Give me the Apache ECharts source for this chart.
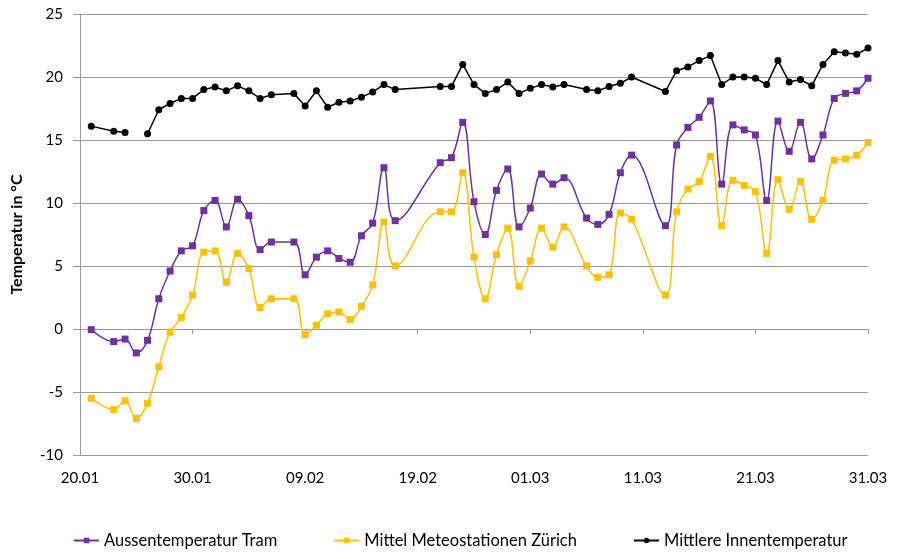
<!DOCTYPE html>
<html><head><meta charset="utf-8">
<script src="https://cdn.jsdelivr.net/npm/echarts@6/dist/echarts.min.js"></script>
<style>html,body{margin:0;padding:0;background:#fff}#c{width:900px;height:559px}</style>
</head><body><div id="c"></div>
<script>
const dates = ['21.01','23.01','24.01','25.01','26.01','27.01','28.01','29.01','30.01','31.01',
 '01.02','02.02','03.02','04.02','05.02','06.02',
 '08.02','09.02','10.02','11.02','12.02','13.02','14.02','15.02','16.02','17.02',
 '21.02','22.02','23.02','24.02','25.02','26.02','27.02','28.02',
 '01.03','02.03','03.03','04.03',
 '06.03','07.03','08.03','09.03','10.03',
 '13.03','14.03','15.03','16.03','17.03','18.03','19.03','20.03','21.03','22.03','23.03','24.03','25.03','26.03','27.03','28.03','29.03','30.03','31.03'];
const aussenTram = [-0.05,-1.0,-0.8,-1.9,-0.9,2.4,4.6,6.2,6.6,9.4,
 10.2,8.1,10.3,9.0,6.3,6.9,
 6.9,4.3,5.7,6.2,5.6,5.3,7.4,8.4,12.8,8.6,
 13.2,13.6,16.4,10.1,7.5,11.0,12.7,8.1,
 9.6,12.3,11.5,12.0,
 8.8,8.3,9.1,12.4,13.8,
 8.2,14.6,16.0,16.8,18.1,11.5,16.2,15.8,15.4,10.2,16.5,14.1,16.4,13.5,15.4,18.3,18.7,18.9,19.9];
const meteoZuerich = [-5.5,-6.4,-5.7,-7.1,-5.9,-3.0,-0.25,0.9,2.7,6.1,
 6.2,3.7,6.0,4.8,1.7,2.4,
 2.4,-0.45,0.3,1.2,1.35,0.75,1.8,3.5,8.5,5.0,
 9.3,9.3,12.4,5.7,2.4,5.9,8.0,3.4,
 5.4,8.0,6.5,8.1,
 5.0,4.1,4.3,9.2,8.7,
 2.7,9.3,11.1,11.7,13.7,8.2,11.8,11.4,10.9,6.0,11.85,9.5,11.7,8.7,10.2,13.4,13.5,13.8,14.8];
const innen = [16.1,15.7,15.6,null,15.5,17.4,17.9,18.3,18.3,19.0,
 19.2,18.9,19.3,18.9,18.3,18.6,
 18.7,17.7,18.9,17.6,18.0,18.1,18.4,18.8,19.4,19.0,
 19.25,19.25,21.0,19.4,18.7,19.0,19.6,18.7,
 19.1,19.4,19.2,19.4,
 19.0,18.9,19.25,19.5,20.0,
 18.85,20.5,20.8,21.3,21.7,19.4,20.0,20.0,19.9,19.4,21.3,19.6,19.8,19.3,21.0,22.0,21.9,21.8,22.3];
const tickLabels = ['20.01','30.01','09.02','19.02','01.03','11.03','21.03','31.03'];
const seriesNames = ['Aussentemperatur Tram','Mittel Meteostationen Zürich','Mittlere Innentemperatur'];

const YEAR = 2019;
function dayOffset(s){
  const [d,m] = s.split('.').map(Number);
  return Math.round((Date.UTC(YEAR,m-1,d) - Date.UTC(YEAR,0,20))/86400000);
}
const xs = dates.map(dayOffset);
const pairs = arr => arr.map((v,i)=>[xs[i], v===null ? '-' : v]);

const FONT = 'Lato';
const gridColor = '#999999';
const chart = echarts.init(document.getElementById('c'), null, {renderer:'canvas'});
chart.setOption({
  animation:false,
  textStyle:{fontFamily:FONT},
  grid:{left:80, right:32, top:14, bottom:104, containLabel:false},
  legend:{
    bottom:5, left:68, itemGap:56, itemWidth:25, itemHeight:7,
    textStyle:{fontFamily:FONT, fontSize:16.5, color:'#000'},
    data:seriesNames
  },
  xAxis:[{
    type:'value', min:0, max:70, interval:10,
    axisLine:{show:false, onZero:false},
    axisTick:{show:false},
    splitLine:{show:false},
    axisLabel:{margin:16, fontSize:15, color:'#000', fontFamily:FONT,
      formatter: v => tickLabels[Math.round(v/10)]}
  },{
    type:'value', min:0, max:70, interval:10, position:'bottom',
    axisLine:{show:true, onZero:true, lineStyle:{color:gridColor, width:1}},
    axisTick:{show:true, inside:false, length:5, lineStyle:{color:gridColor}},
    axisLabel:{show:false}, splitLine:{show:false}
  }],
  yAxis:{
    type:'value', min:-10, max:25, interval:5,
    name:'Temperatur in °C', nameLocation:'middle', nameGap:55,
    nameTextStyle:{fontFamily:FONT, fontSize:16, fontWeight:'bold', color:'#000'},
    axisLine:{show:true, lineStyle:{color:gridColor}},
    axisTick:{show:true, length:7, lineStyle:{color:gridColor}},
    splitLine:{show:true, lineStyle:{color:gridColor, width:1}},
    axisLabel:{margin:17, fontSize:15, color:'#000', fontFamily:FONT}
  },
  series:[{
    name:seriesNames[0], type:'line', data:pairs(aussenTram), smooth:0.4,
    symbol:'rect', symbolSize:7, connectNulls:true,
    itemStyle:{color:'#7030A0'}, lineStyle:{color:'#7030A0', width:1.5}, z:3
  },{
    name:seriesNames[1], type:'line', data:pairs(meteoZuerich), smooth:0.4,
    symbol:'rect', symbolSize:7, connectNulls:true,
    itemStyle:{color:'#FFC000'}, lineStyle:{color:'#FFC000', width:1.5}, z:2
  },{
    name:seriesNames[2], type:'line', data:pairs(innen), smooth:false,
    symbol:'circle', symbolSize:7, connectNulls:false,
    itemStyle:{color:'#000'}, lineStyle:{color:'#000', width:1.5}, z:4
  }]
});
</script></body></html>
